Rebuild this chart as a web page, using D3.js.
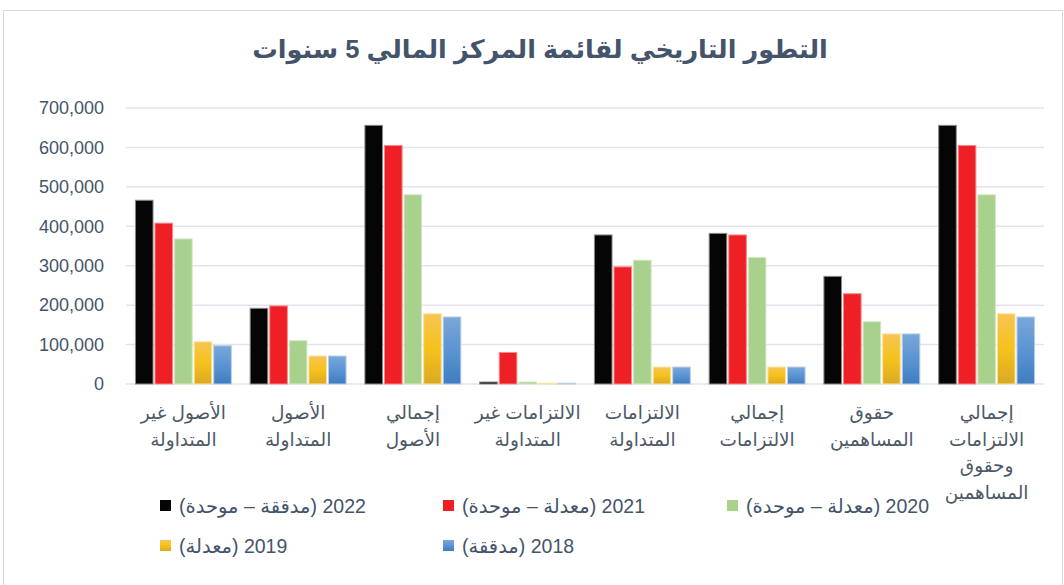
<!DOCTYPE html>
<html>
<head>
<meta charset="utf-8">
<script src="https://cdn.jsdelivr.net/npm/d3@7"></script>
<style>
  body { margin: 0; background: #fff; }
  svg { display: block; font-family: "Liberation Sans", Arial, "DejaVu Sans", sans-serif; }
</style>
</head>
<body>
<script>
const WIDTH = 1064;
const HEIGHT = 585;

// data
const categories = [
  ["الأصول غير", "المتداولة"],
  ["الأصول", "المتداولة"],
  ["إجمالي", "الأصول"],
  ["الالتزامات غير", "المتداولة"],
  ["الالتزامات", "المتداولة"],
  ["إجمالي", "الالتزامات"],
  ["حقوق", "المساهمين"],
  ["إجمالي", "الالتزامات", "وحقوق", "المساهمين"]
];
const seriesNames = [
  "2022 (مدققة – موحدة)",
  "2021 (معدلة – موحدة)",
  "2020 (معدلة – موحدة)",
  "2019 (معدلة)",
  "2018 (مدققة)"
];
const v2022 = [466000, 192000, 656000, 5000, 378000, 382000, 273000, 656000];
const v2021 = [408000, 198000, 605000, 80000, 297000, 378000, 229000, 605000];
const v2020 = [368000, 110000, 480000, 5000, 314000, 321000, 158000, 480000];
const v2019 = [107000, 71000, 178000, 2000, 43000, 43000, 127000, 178000];
const v2018 = [97000, 71000, 170000, 2000, 43000, 43000, 127000, 170000];
const yTicks = [0, 100000, 200000, 300000, 400000, 500000, 600000, 700000];

const seriesValues = [v2022, v2021, v2020, v2019, v2018];
const fills = ["#050505", "#ee1f25", "#a9d18e", "url(#gYellow)", "url(#gBlue)"];
const strokes = ["#8a8a8a", "#f58a8a", "#d4e8c6", "#fae3a0", "#b7cfe9"];

const SVG = d3.select("body").append("svg")
  .attr("width", WIDTH)
  .attr("height", HEIGHT);

const defs = SVG.append("defs");
const grad = (id, stops) => {
  const g = defs.append("linearGradient").attr("id", id)
    .attr("x1", 0).attr("y1", 0).attr("x2", 0).attr("y2", 1);
  stops.forEach(([o, c]) => g.append("stop").attr("offset", o).attr("stop-color", c));
};
grad("gYellow", [[0, "#f7c553"], [0.5, "#f5c21c"], [1, "#dba923"]]);
grad("gBlue", [[0, "#79a7d9"], [0.5, "#5b94d3"], [1, "#3e7dc0"]]);

// border
SVG.append("rect")
  .attr("x", 3.5).attr("y", 10.5)
  .attr("width", WIDTH - 5).attr("height", HEIGHT)
  .attr("fill", "none").attr("stroke", "#d9d9d9");

// title
SVG.append("text")
  .attr("x", 540).attr("y", 58)
  .attr("text-anchor", "middle")
  .attr("fill", "#44546a")
  .attr("font-size", 25.5)
  .attr("font-weight", "bold")
  .text("التطور التاريخي لقائمة المركز المالي 5 سنوات");

const x0 = d3.scaleBand()
  .domain(d3.range(categories.length))
  .range([126, 1044])
  .paddingInner(0.13)
  .paddingOuter(0.065);

const x1 = d3.scaleBand()
  .domain(d3.range(seriesNames.length))
  .range([0, x0.bandwidth()])
  .padding(0.1);

const y = d3.scaleLinear().domain([0, 700000]).range([384, 108]);

// grid
SVG.append("g")
  .selectAll("line")
  .data(yTicks)
  .join("line")
  .attr("x1", 126).attr("x2", 1044)
  .attr("y1", d => y(d)).attr("y2", d => y(d))
  .attr("stroke", "#e1e5eb")
  .attr("stroke-width", 1.5);

// y axis labels
const yAxis = SVG.append("g")
  .attr("transform", "translate(104,0)")
  .call(d3.axisLeft(y).tickValues(yTicks).tickSize(0).tickPadding(0).tickFormat(d3.format(",")));
yAxis.select(".domain").remove();
yAxis.selectAll("text")
  .attr("fill", "#44546a")
  .attr("font-size", 18)
  .attr("font-family", "\"Liberation Sans\", Arial, sans-serif");

// bars
const groups = SVG.append("g")
  .selectAll("g")
  .data(categories.map((c, i) => i))
  .join("g")
  .attr("transform", i => `translate(${x0(i)},0)`);

groups.selectAll("rect")
  .data(i => seriesValues.map((vals, s) => ({ s, v: vals[i] })))
  .join("rect")
  .attr("x", d => x1(d.s))
  .attr("y", d => y(d.v))
  .attr("width", x1.bandwidth())
  .attr("height", d => y(0) - y(d.v))
  .attr("fill", d => fills[d.s])
  .attr("stroke", d => strokes[d.s])
  .attr("stroke-width", 1);

// category labels
const labels = SVG.append("g")
  .selectAll("text")
  .data(categories)
  .join("text")
  .attr("text-anchor", "middle")
  .attr("fill", "#4d5866")
  .attr("font-size", 18.5)
  .attr("direction", "rtl");
labels.each(function (lines, i) {
  d3.select(this).selectAll("tspan")
    .data(lines)
    .join("tspan")
    .attr("x", x0(i) + x0.bandwidth() / 2)
    .attr("y", (d, k) => 419 + k * 26.5)
    .text(d => d);
});

// legend
const legendPos = [[160, 506], [443, 506], [727, 506], [160, 546], [443, 546]];
const legend = SVG.append("g")
  .selectAll("g")
  .data(seriesNames)
  .join("g")
  .attr("transform", (d, i) => `translate(${legendPos[i][0]},${legendPos[i][1]})`);
legend.append("rect")
  .attr("x", 0).attr("y", -6)
  .attr("width", 11).attr("height", 11)
  .attr("fill", (d, i) => fills[i]);
legend.append("text")
  .attr("x", 19).attr("y", 7)
  .attr("direction", "rtl")
  .attr("text-anchor", "end")
  .attr("fill", "#44546a")
  .attr("font-size", 19.5)
  .text(d => d);
</script>
</body>
</html>
